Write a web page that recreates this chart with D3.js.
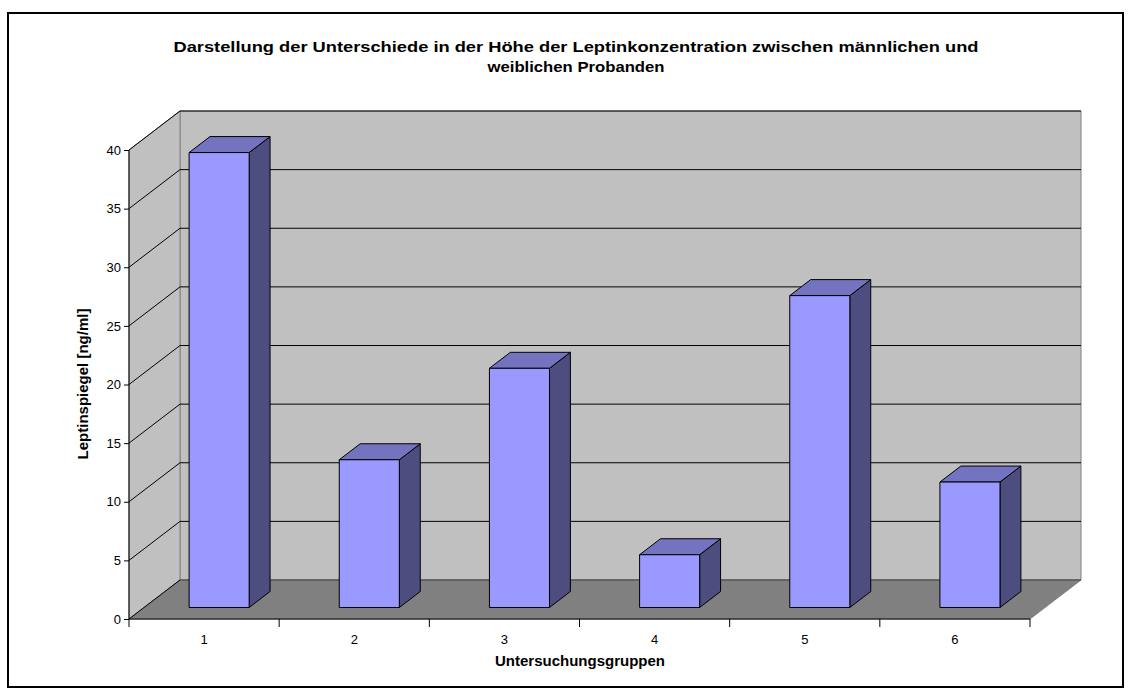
<!DOCTYPE html>
<html>
<head>
<meta charset="utf-8">
<script src="https://cdn.jsdelivr.net/npm/d3@7/dist/d3.min.js"></script>
<style>
  html, body { margin: 0; padding: 0; background: #fff; }
  svg { display: block; font-family: "Liberation Sans", Arial, sans-serif; }
</style>
</head>
<body>
<svg id="chart" width="1131" height="695"></svg>
<script>
// Chart data
const categories = ["1", "2", "3", "4", "5", "6"];
const values = [38.8, 12.6, 20.4, 4.5, 26.6, 10.7];
const yTicks = [0, 5, 10, 15, 20, 25, 30, 35, 40];
const titleLines = [
  "Darstellung der Unterschiede in der Höhe der Leptinkonzentration zwischen männlichen und",
  "weiblichen Probanden"
];
const titleWidths = [805, 177];
const yLabel = "Leptinspiegel [ng/ml]";
const xLabel = "Untersuchungsgruppen";

const svg = d3.select("#chart");

// Outer frame
svg.append("rect")
  .attr("x", 8).attr("y", 13).attr("width", 1115).attr("height", 674)
  .attr("fill", "#fff").attr("stroke", "#000").attr("stroke-width", 2);

// Front plane geometry and depth offset of the 3D box
const front = { left: 129, right: 1030, top: 150, bottom: 619 };
const depth = { dx: 51, dy: -39 };
const off = (p, d) => [p[0] + d * depth.dx, p[1] + d * depth.dy];

const x = d3.scaleBand().domain(categories).range([front.left, front.right]);
const y = d3.scaleLinear().domain([0, 40]).range([front.bottom, front.top]);

const poly = pts => pts.map(p => p.join(",")).join(" ");

// Back wall
const bw = [off([front.left, y(40)], 1), off([front.right, y(40)], 1),
            off([front.right, y(0)], 1), off([front.left, y(0)], 1)];
svg.append("polygon").attr("points", poly(bw))
  .attr("fill", "#C0C0C0").attr("stroke", "#808080").attr("stroke-width", 1);

// Side wall
const sw = [[front.left, y(40)], off([front.left, y(40)], 1),
            off([front.left, y(0)], 1), [front.left, y(0)]];
svg.append("polygon").attr("points", poly(sw))
  .attr("fill", "#C0C0C0").attr("stroke", "#808080").attr("stroke-width", 1);

// Floor
const fl = [[front.left, y(0)], off([front.left, y(0)], 1),
            off([front.right, y(0)], 1), [front.right, y(0)]];
svg.append("polygon").attr("points", poly(fl))
  .attr("fill", "#808080").attr("stroke", "#808080").attr("stroke-width", 1);

// Gridlines on back wall and side wall
const grid = svg.append("g").attr("stroke", "#000").attr("stroke-width", 1).attr("fill", "none");
yTicks.forEach(v => {
  const a = [front.left, y(v)], b = off(a, 1), c = off([front.right, y(v)], 1);
  const back = grid.append("line").attr("x1", b[0]).attr("y1", b[1]).attr("x2", c[0]).attr("y2", c[1]);
  if (v === 0) back.attr("stroke", "#404040");
  grid.append("line").attr("x1", a[0]).attr("y1", a[1]).attr("x2", b[0]).attr("y2", b[1]);
});

// Y axis
const yAxis = d3.axisLeft(y).tickValues(yTicks).tickSize(5).tickPadding(3);
svg.append("g").attr("transform", `translate(${front.left},0)`).call(yAxis)
  .call(g => g.select(".domain").attr("stroke", "#000").attr("d", `M0,${y(40)}V${y(0)}`))
  .call(g => g.selectAll("text").attr("font-size", 13).attr("fill", "#000")
        .attr("font-family", "'Liberation Sans', Arial, sans-serif"));

// X axis: ticks at category boundaries, labels centred in each band
const xg = svg.append("g").attr("transform", `translate(0,${front.bottom})`);
xg.append("line").attr("x1", front.left).attr("x2", front.right)
  .attr("y1", 0).attr("y2", 0).attr("stroke", "#000");
const bounds = categories.map(c => x(c)).concat([x(categories[categories.length - 1]) + x.bandwidth()]);
xg.selectAll("line.tick").data(bounds).join("line").attr("class", "tick")
  .attr("x1", d => d).attr("x2", d => d).attr("y1", 0).attr("y2", 8).attr("stroke", "#000");
xg.selectAll("text").data(categories).join("text")
  .attr("x", d => x(d) + x.bandwidth() / 2).attr("y", 25)
  .attr("text-anchor", "middle").attr("font-size", 13).text(d => d);

// Bars as 3D prisms
const barW = x.bandwidth() * 0.4;
const d0 = 0.295, d1 = 0.705;
const bars = svg.append("g").attr("stroke", "#000").attr("stroke-width", 1).attr("stroke-linejoin", "round");
categories.forEach((c, i) => {
  const xl = x(c) + (x.bandwidth() - barW) / 2, xr = xl + barW;
  const yt = y(values[i]), yb = y(0);
  const fTL = off([xl, yt], d0), fTR = off([xr, yt], d0), fBR = off([xr, yb], d0), fBL = off([xl, yb], d0);
  const bTL = off([xl, yt], d1), bTR = off([xr, yt], d1), bBR = off([xr, yb], d1);
  bars.append("polygon").attr("points", poly([fTR, bTR, bBR, fBR])).attr("fill", "#4D4D80");
  bars.append("polygon").attr("points", poly([fTL, bTL, bTR, fTR])).attr("fill", "#7373BF");
  bars.append("polygon").attr("points", poly([fTL, fTR, fBR, fBL])).attr("fill", "#9999FF");
});

// Titles
titleLines.forEach((t, i) => {
  svg.append("text").attr("x", 576).attr("y", 52 + i * 20)
    .attr("text-anchor", "middle").attr("font-size", 15).attr("font-weight", "bold")
    .attr("textLength", titleWidths[i]).attr("lengthAdjust", "spacingAndGlyphs")
    .text(t);
});

svg.append("text").attr("x", 580).attr("y", 666).attr("text-anchor", "middle")
  .attr("font-size", 15).attr("font-weight", "bold").text(xLabel);

svg.append("text").attr("transform", "translate(88,384) rotate(-90)")
  .attr("text-anchor", "middle").attr("font-size", 15).attr("font-weight", "bold").text(yLabel);
</script>
</body>
</html>
